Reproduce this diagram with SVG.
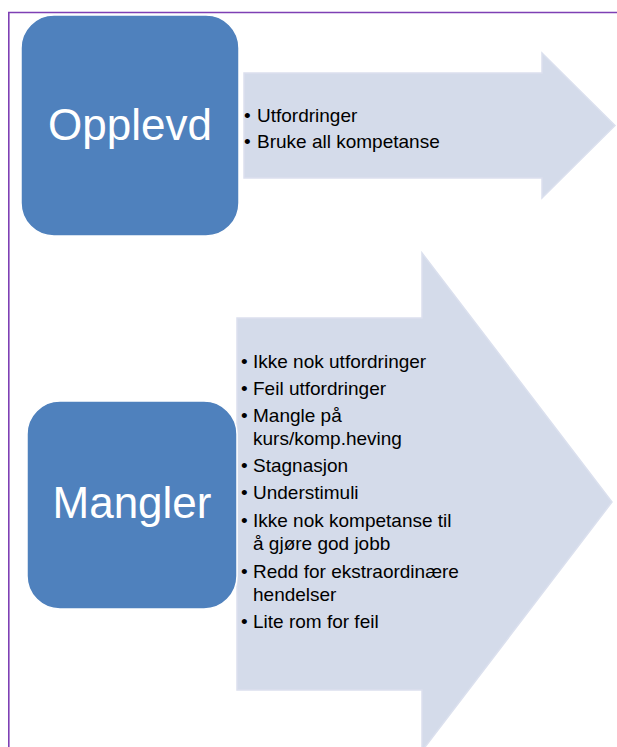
<svg xmlns="http://www.w3.org/2000/svg" width="617" height="747" viewBox="0 0 617 747">
  <style>
    .frame { fill: none; stroke: #7e40b4; stroke-width: 1.6; }
    .arrow { fill: #d4dbea; stroke: #dbe0ee; stroke-width: 1.5; }
    .box { fill: #4f81bd; stroke: #ffffff; stroke-width: 1.5; }
    .label { font-family: "Liberation Sans", Arial, sans-serif; font-size: 44px; fill: #ffffff; text-anchor: middle; }
    .item { font-family: "Liberation Sans", Arial, sans-serif; font-size: 19px; fill: #000000; }
  </style>

  <!-- page frame -->
  <path class="frame" d="M617,12.5 H8.8 V747"/>

  <!-- block arrows carrying the bullet lists -->
  <g id="connectors">
    <path id="arrow-opplevd" class="arrow" d="M244,73 H542 V53 L615,125.5 L542,198 V178 H244 Z"/>
    <path id="arrow-mangler" class="arrow" d="M237,318 H422 V253 L612,502 L422,751 V690 H237 Z"/>
  </g>

  <!-- list in the upper arrow -->
  <g id="list-opplevd" class="item">
    <text x="244" y="122">•</text><text x="257" y="122">Utfordringer</text>
    <text x="244" y="148">•</text><text x="257" y="148">Bruke all kompetanse</text>
  </g>

  <!-- list in the lower arrow -->
  <g id="list-mangler" class="item">
    <text x="241" y="368">•</text><text x="253" y="368">Ikke nok utfordringer</text>
    <text x="241" y="395">•</text><text x="253" y="395">Feil utfordringer</text>
    <text x="241" y="422">•</text><text x="253" y="422">Mangle på</text>
    <text x="253" y="445">kurs/komp.heving</text>
    <text x="241" y="472">•</text><text x="253" y="472">Stagnasjon</text>
    <text x="241" y="499">•</text><text x="253" y="499">Understimuli</text>
    <text x="241" y="527">•</text><text x="253" y="527">Ikke nok kompetanse til</text>
    <text x="253" y="550">å gjøre god jobb</text>
    <text x="241" y="578">•</text><text x="253" y="578">Redd for ekstraordinære</text>
    <text x="253" y="601">hendelser</text>
    <text x="241" y="628">•</text><text x="253" y="628">Lite rom for feil</text>
  </g>

  <!-- category boxes -->
  <g id="node-opplevd">
    <rect class="box" x="21" y="15" width="218" height="221" rx="33" ry="33"/>
    <text class="label" x="130" y="140">Opplevd</text>
  </g>
  <g id="node-mangler">
    <rect class="box" x="27" y="401" width="210" height="208" rx="33" ry="33"/>
    <text class="label" x="132" y="518">Mangler</text>
  </g>
</svg>
